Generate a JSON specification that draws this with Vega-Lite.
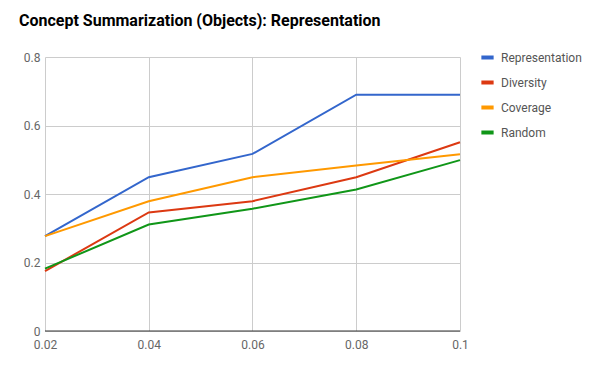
{
  "$schema": "https://vega.github.io/schema/vega-lite/v6.json",
  "width": 415,
  "height": 274,
  "autosize": {"type": "none"},
  "padding": {"left": 45, "top": 57, "right": 140, "bottom": 40},
  "background": "white",
  "title": {
    "text": "Concept Summarization (Objects): Representation",
    "anchor": "start",
    "frame": "group",
    "dx": -26,
    "offset": 20,
    "font": "Roboto",
    "fontSize": 16,
    "fontWeight": "bold",
    "color": "#000000"
  },
  "data": {
    "values": [
      {"x": 0.02, "series": "Representation", "y": 0.277},
      {"x": 0.04, "series": "Representation", "y": 0.449},
      {"x": 0.06, "series": "Representation", "y": 0.517},
      {"x": 0.08, "series": "Representation", "y": 0.69},
      {"x": 0.1, "series": "Representation", "y": 0.69},
      {"x": 0.02, "series": "Diversity", "y": 0.175},
      {"x": 0.04, "series": "Diversity", "y": 0.346},
      {"x": 0.06, "series": "Diversity", "y": 0.379},
      {"x": 0.08, "series": "Diversity", "y": 0.449},
      {"x": 0.1, "series": "Diversity", "y": 0.551},
      {"x": 0.02, "series": "Coverage", "y": 0.277},
      {"x": 0.04, "series": "Coverage", "y": 0.379},
      {"x": 0.06, "series": "Coverage", "y": 0.449},
      {"x": 0.08, "series": "Coverage", "y": 0.483},
      {"x": 0.1, "series": "Coverage", "y": 0.516},
      {"x": 0.02, "series": "Random", "y": 0.182},
      {"x": 0.04, "series": "Random", "y": 0.311},
      {"x": 0.06, "series": "Random", "y": 0.357},
      {"x": 0.08, "series": "Random", "y": 0.413},
      {"x": 0.1, "series": "Random", "y": 0.499}
    ]
  },
  "config": {
    "view": {"stroke": null},
    "font": "Roboto"
  },
  "layer": [
    {
      "mark": {"type": "rule", "color": "#333333", "strokeWidth": 1},
      "data": {"values": [{"y": 0}]},
      "encoding": {"y": {"field": "y", "type": "quantitative", "scale": {"domain": [0, 0.8]}}}
    },
    {
      "mark": {"type": "line", "strokeWidth": 2},
      "encoding": {
        "x": {
          "field": "x",
          "type": "quantitative",
          "scale": {"domain": [0.02, 0.1], "nice": false, "zero": false},
          "axis": {
            "title": null,
            "values": [0.02, 0.04, 0.06, 0.08, 0.1],
            "format": "~g",
            "domain": false,
            "ticks": false,
            "labelPadding": 8,
            "labelFontSize": 12,
            "labelColor": "#666666",
            "labelFont": "Roboto",
            "gridColor": "#cccccc",
            "gridOpacity": 1,
            "labelFlush": false
          }
        },
        "y": {
          "field": "y",
          "type": "quantitative",
          "scale": {"domain": [0, 0.8], "nice": false},
          "axis": {
            "title": null,
            "values": [0, 0.2, 0.4, 0.6, 0.8],
            "format": "~g",
            "domain": false,
            "ticks": false,
            "labelPadding": 5,
            "labelFontSize": 12,
            "labelColor": "#666666",
            "labelFont": "Roboto",
            "gridColor": "#cccccc",
            "gridOpacity": 1,
            "labelFlush": false
          }
        },
        "color": {
          "field": "series",
          "type": "nominal",
          "sort": ["Representation", "Diversity", "Coverage", "Random"],
          "scale": {
            "domain": ["Representation", "Diversity", "Coverage", "Random"],
            "range": ["#3366cc", "#dc3912", "#ff9900", "#109618"]
          },
          "legend": {
            "title": null,
            "orient": "none",
            "legendX": 434,
            "legendY": -8,
            "symbolType": "stroke",
            "symbolSize": 150,
            "symbolStrokeWidth": 4,
            "labelFontSize": 12,
            "labelColor": "#555555",
            "labelFont": "Roboto",
            "rowPadding": 8,
            "labelOffset": 5
          }
        }
      }
    }
  ]
}
